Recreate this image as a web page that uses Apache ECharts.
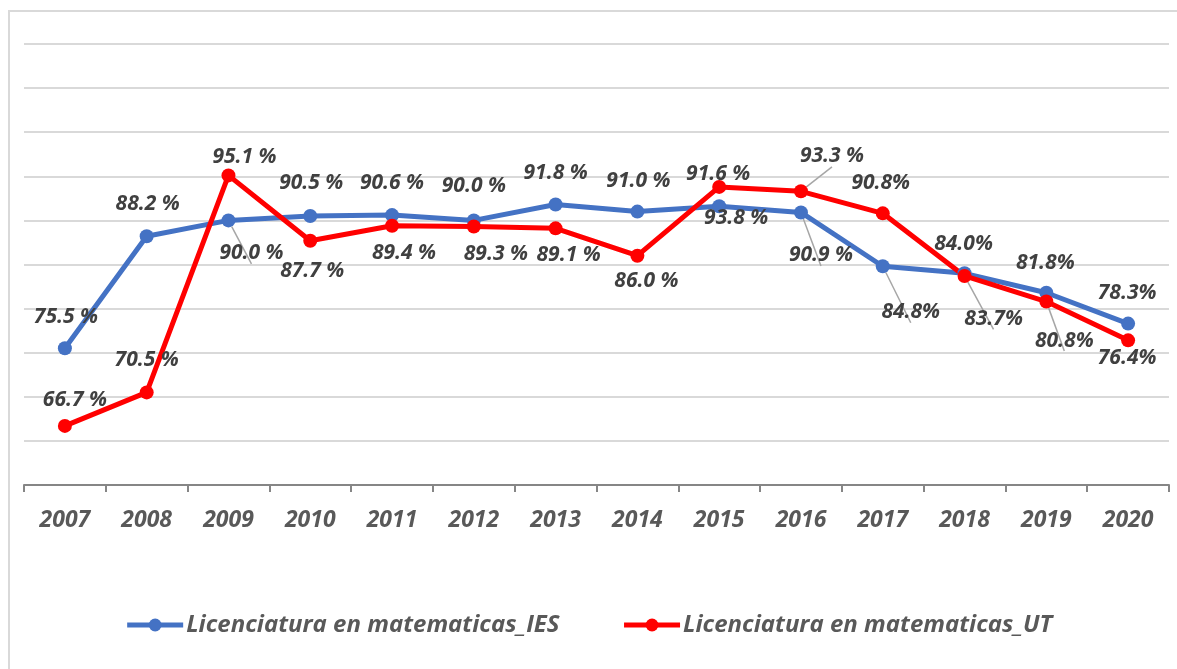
<!DOCTYPE html>
<html>
<head>
<meta charset="utf-8">
<script src="https://cdn.jsdelivr.net/npm/echarts@6/dist/echarts.min.js"></script>
<style>
	html, body { margin: 0; padding: 0; background: #fff; overflow: hidden; }
	#frame { position: absolute; left: 8px; top: 10px; width: 1200px; height: 700px; border: 2px solid #d9d9d9; }
	#chart { position: absolute; left: 0; top: 0; width: 1177px; height: 669px; }
</style>
</head>
<body>
<div id="frame"></div>
<div id="chart"></div>
<script>
//年份
var years = ['2007', '2008', '2009', '2010', '2011', '2012', '2013', '2014', '2015', '2016', '2017', '2018', '2019', '2020'];
//IES 数据及标签
var iesValues = [75.5, 88.2, 90.0, 90.5, 90.6, 90.0, 91.8, 91.0, 91.6, 90.9, 84.8, 84.0, 81.8, 78.3];
var iesLabels = ['75.5 %', '88.2 %', '90.0 %', '90.5 %', '90.6 %', '90.0 %', '91.8 %', '91.0 %', '91.6 %', '90.9 %', '84.8%', '84.0%', '81.8%', '78.3%'];
//UT 数据及标签
var utValues = [66.7, 70.5, 95.1, 87.7, 89.4, 89.3, 89.1, 86.0, 93.8, 93.3, 90.8, 83.7, 80.8, 76.4];
var utLabels = ['66.7 %', '70.5 %', '95.1 %', '87.7 %', '89.4 %', '89.3 %', '89.1 %', '86.0 %', '93.8 %', '93.3 %', '90.8%', '83.7%', '80.8%', '76.4%'];
var seriesNames = ['Licenciatura en matematicas_IES', 'Licenciatura en matematicas_UT'];

//标签相对数据点的偏移 [dx, dy]
var iesOffsets = [[1, -31], [1, -32], [23, 33], [1, -33], [0, -32], [0, -34], [0, -32], [1, -31], [-1, -32], [20, 43], [28, 46], [-1, -29], [-1, -30], [-1, -31]];
var iesGuide = [false, false, true, false, false, false, false, false, false, true, true, false, false, false];
var utOffsets = [[10, -26], [0, -32], [16, -18], [2, 30], [12, 27], [22, 27], [13, 27], [9, 25], [17, 31], [31, -35], [-2, -30], [29, 43], [18, 39], [-1, 18]];
var utGuide = [false, false, false, false, false, false, false, false, false, true, false, true, true, false];

var fontFamily = '"Open Sans", sans-serif';

function buildData(values, labels, offsets, guides) {
	var arr = [];
	for (var i = 0; i < values.length; i++) {
		arr.push({
			value: values[i],
			label: { offset: offsets[i], formatter: labels[i] },
			labelLine: { show: guides[i] }
		});
	}
	return arr;
}

function lineSeries(name, color, data) {
	return {
		name: name,
		type: 'line',
		data: data,
		symbol: 'circle',
		symbolSize: 14,
		lineStyle: { color: color, width: 5 },
		itemStyle: { color: color },
		label: {
			show: true,
			position: 'inside',
			color: '#404040',
			fontSize: 21,
			fontWeight: 'bold',
			fontStyle: 'italic',
			fontFamily: fontFamily
		},
		labelLine: {
			lineStyle: { color: '#a6a6a6', width: 1.5 }
		},
		emphasis: { disabled: true }
	};
}

var myChart = echarts.init(document.getElementById('chart'));
myChart.setOption({
	animation: false,
	backgroundColor: 'transparent',
	grid: { left: 24, right: 8, top: 44, bottom: 184 },
	legend: {
		bottom: 27,
		left: 'center',
		itemWidth: 56,
		itemHeight: 16,
		itemGap: 62,
		lineStyle: { width: 5 },
		textStyle: { color: '#595959', fontSize: 24, fontWeight: 'bold', fontStyle: 'italic', fontFamily: fontFamily, padding: [0, 0, 0, -2] },
		data: seriesNames
	},
	xAxis: {
		type: 'category',
		data: years,
		boundaryGap: true,
		axisLine: { lineStyle: { color: '#868686', width: 2 } },
		axisTick: { show: true, length: 7, lineStyle: { color: '#868686', width: 2 } },
		axisLabel: { color: '#595959', fontSize: 23, fontWeight: 'bold', fontStyle: 'italic', fontFamily: fontFamily, margin: 24 }
	},
	yAxis: {
		type: 'value',
		min: 60,
		max: 110,
		interval: 5,
		axisLabel: { show: false },
		axisLine: { show: false },
		axisTick: { show: false },
		splitLine: { lineStyle: { color: '#d9d9d9', width: 2 } }
	},
	series: [
		lineSeries(seriesNames[0], '#4472c4', buildData(iesValues, iesLabels, iesOffsets, iesGuide)),
		lineSeries(seriesNames[1], '#ff0000', buildData(utValues, utLabels, utOffsets, utGuide))
	]
});
</script>
</body>
</html>
